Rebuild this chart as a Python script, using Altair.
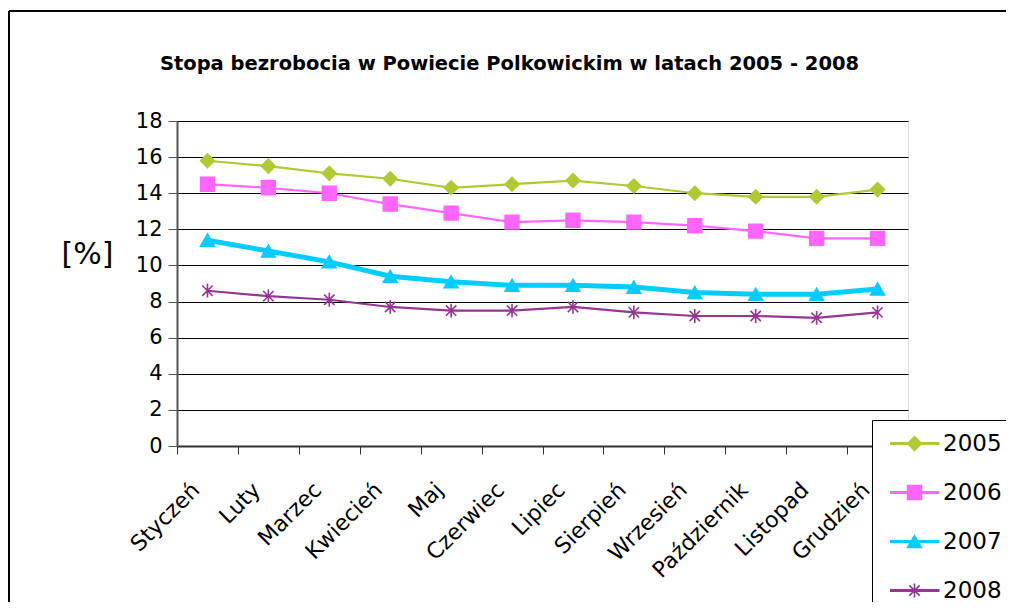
import altair as alt
import pandas as pd

months = ["Styczeń", "Luty", "Marzec", "Kwiecień", "Maj", "Czerwiec", "Lipiec",
          "Sierpień", "Wrzesień", "Październik", "Listopad", "Grudzień"]
years = ["2005", "2006", "2007", "2008"]
v2005 = [15.8, 15.5, 15.1, 14.8, 14.3, 14.5, 14.7, 14.4, 14.0, 13.8, 13.8, 14.2]
v2006 = [14.5, 14.3, 14.0, 13.4, 12.9, 12.4, 12.5, 12.4, 12.2, 11.9, 11.5, 11.5]
v2007 = [11.4, 10.8, 10.2, 9.4, 9.1, 8.9, 8.9, 8.8, 8.5, 8.4, 8.4, 8.7]
v2008 = [8.6, 8.3, 8.1, 7.7, 7.5, 7.5, 7.7, 7.4, 7.2, 7.2, 7.1, 7.4]
y_ticks = [0, 2, 4, 6, 8, 10, 12, 14, 16, 18]

colors = ["#B2C834", "#FF66FF", "#00CCFF", "#943694"]
star = "M0,-1L0,1M-0.75,-0.75L0.75,0.75M-0.75,0.75L0.75,-0.75"
shapes = ["diamond", "square", "triangle-up", star]

rows = []
for yr, vals in zip(years, [v2005, v2006, v2007, v2008]):
    for m, v in zip(months, vals):
        rows.append({"month": m, "year": yr, "year2": yr, "value": v})
df = pd.DataFrame(rows)

FONT = "DejaVu Sans"

x_enc = alt.X("month:N", sort=months, title=None,
              scale=alt.Scale(type="band", paddingInner=0, paddingOuter=0),
              axis=alt.Axis(labelAngle=-45, labelFontSize=22, labelFont=FONT,
                            labelColor="black", tickBand="extent", tickSize=8,
                            tickColor="#333", domainColor="#333", domainWidth=2,
                            labelPadding=32, labelOffset=-12, grid=False,
                            labelAlign="right", labelBaseline="middle"))
y_enc = alt.Y("value:Q", scale=alt.Scale(domain=[0, 18], nice=False),
              title="[%]",
              axis=alt.Axis(values=y_ticks, labelFontSize=21, labelFont=FONT,
                            labelColor="black", gridColor="black", gridWidth=1,
                            tickSize=9, tickColor="#555", domainColor="#555",
                            domainWidth=2, labelPadding=6,
                            titleAngle=0, titleFontSize=30, titleFont=FONT,
                            titleFontWeight="normal", titleColor="black",
                            titleX=-90, titleY=133, titleAlign="center",
                            titleBaseline="middle"))

lines = alt.Chart(df).mark_line().encode(
    x=x_enc, y=y_enc,
    color=alt.Color("year:N", scale=alt.Scale(range=colors),
                    legend=alt.Legend(orient="none", legendX=695, legendY=299,
                                      title=None, padding=12, strokeColor="black",
                                      fillColor="white", symbolType="M-1,0L8,0",
                                      symbolSize=121, symbolStrokeWidth=3,
                                      labelFontSize=23,
                                      labelFont=FONT, labelColor="black",
                                      labelOffset=36, rowPadding=25, zindex=0)),
    strokeWidth=alt.condition(alt.datum.year == "2007", alt.value(5), alt.value(2.2)),
)

pts = alt.Chart(df).mark_point(filled=True, size=190, strokeWidth=1.6, opacity=1).encode(
    x=x_enc, y=y_enc,
    shape=alt.Shape("year2:N", scale=alt.Scale(range=shapes),
                    legend=alt.Legend(orient="none", legendX=714, legendY=299,
                                      title=None, padding=12, symbolSize=190,
                                      symbolStrokeWidth=1.6, labelFontSize=23,
                                      labelFont=FONT, labelExpr="''",
                                      labelOffset=0, rowPadding=25, zindex=1)),
    fill=alt.Fill("year2:N", scale=alt.Scale(range=colors)),
    stroke=alt.Stroke("year2:N", scale=alt.Scale(range=colors)),
)

frame_data = pd.DataFrame({"a": [0]})
frame_top = alt.Chart(frame_data).mark_rule(color="black", strokeWidth=2).encode(
    x=alt.value(-168), x2=alt.value(829), y=alt.value(-110))
frame_left = alt.Chart(frame_data).mark_rule(color="black", strokeWidth=2).encode(
    x=alt.value(-168), y=alt.value(-110), y2=alt.value(481))

chart = alt.layer(lines, pts, frame_top, frame_left).properties(
    width=731, height=325,
    autosize=alt.AutoSizeParams(type="none"),
    padding={"left": 169, "top": 113, "right": 98, "bottom": 156},
    title=alt.TitleParams("Stopa bezrobocia w Powiecie Polkowickim w latach 2005 - 2008",
                          fontSize=19.5, font=FONT, fontWeight="bold", color="black",
                          offset=-64, dx=-33, anchor="middle"),
).configure_view(stroke="#999", strokeWidth=2).configure(background="white")

chart.save("out.html", embed_options={"renderer": "svg", "actions": False})
